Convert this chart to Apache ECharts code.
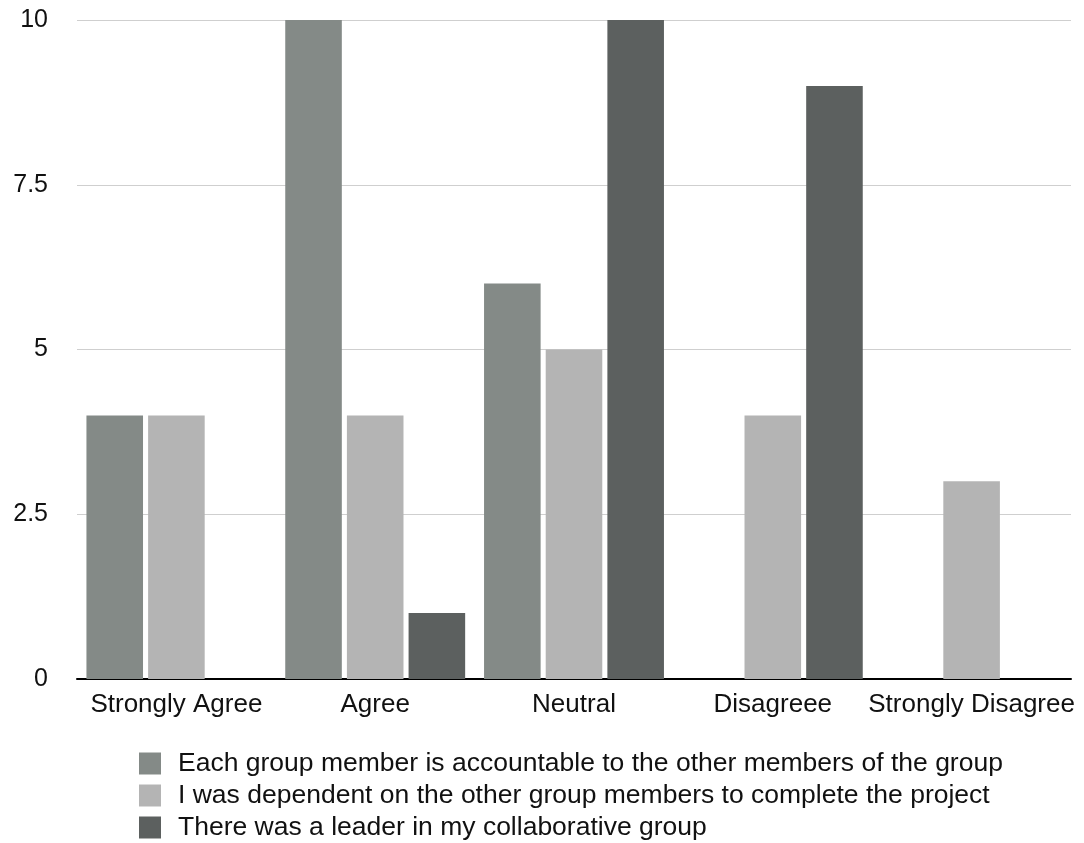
<!DOCTYPE html>
<html>
<head>
<meta charset="utf-8">
<script src="https://cdn.jsdelivr.net/npm/echarts@6/dist/echarts.min.js"></script>
<style>
  html, body { margin: 0; padding: 0; background: #fff; }
  #chart { width: 1084px; height: 843px; }
</style>
</head>
<body>
<div id="chart"></div>
<script>
// Survey answers per response category
const categories = ['Strongly Agree', 'Agree', 'Neutral', 'Disagreee', 'Strongly Disagree'];
const seriesNames = [
  'Each group member is accountable to the other members of the group',
  'I was dependent on the other group members to complete the project',
  'There was a leader in my collaborative group'
];
const accountable = [4, 10, 6, 0, 0];
const dependent = [4, 4, 5, 4, 3];
const leader = [0, 1, 10, 9, 0];
const yTicks = [0, 2.5, 5, 7.5, 10];

const colors = ['#848a87', '#b4b4b4', '#5c605f'];
const font = '"Liberation Sans", Arial, Helvetica, sans-serif';

const chart = echarts.init(document.getElementById('chart'));

const seriesData = [accountable, dependent, leader];

chart.setOption({
  animation: false,
  color: colors,
  grid: { left: 77, right: 13, top: 20, bottom: 164, containLabel: false },
  legend: {
    orient: 'vertical',
    left: 139,
    top: 750,
    width: 940,
    height: 200,
    padding: 0,
    itemWidth: 22,
    itemHeight: 22,
    itemGap: 5,
    icon: 'rect',
    selectedMode: false,
    textStyle: {
      fontFamily: font, fontSize: 26.5, color: '#111',
      padding: [0, 0, 0, 12]
    },
    data: seriesNames
  },
  xAxis: {
    type: 'category',
    data: categories,
    axisLine: { lineStyle: { color: '#000', width: 2 } },
    axisTick: { show: false },
    axisLabel: { fontFamily: font, fontSize: 26, color: '#111', margin: 13, interval: 0 }
  },
  yAxis: {
    type: 'value',
    min: yTicks[0],
    max: yTicks[yTicks.length - 1],
    interval: yTicks[1] - yTicks[0],
    axisLine: { show: false },
    axisTick: { show: false },
    splitLine: { lineStyle: { color: '#cfcfcf', width: 1 } },
    axisLabel: {
      fontFamily: font, fontSize: 25, color: '#111', margin: 29,
      formatter: v => String(v)
    }
  },
  series: seriesNames.map((name, i) => ({
    name: name,
    type: 'bar',
    data: seriesData[i],
    barGap: '9%',
    barCategoryGap: '9.5%',
    itemStyle: { color: colors[i] }
  }))
});
</script>
</body>
</html>
